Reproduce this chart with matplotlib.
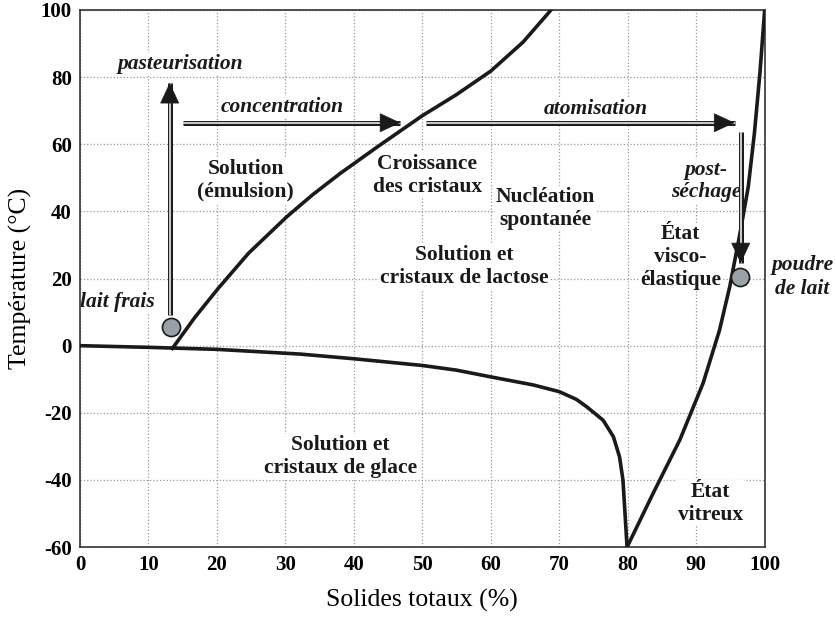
import matplotlib.pyplot as plt

plt.rcParams['font.family'] = ['Liberation Serif', 'DejaVu Serif']
plt.rcParams['axes.unicode_minus'] = False

# courbe de solubilité du lactose
lact_x = [13.5, 16.8, 20.2, 24.6, 30.2, 34.0, 38.0, 43.7, 50.0, 55.0, 60.0, 64.7, 68.8]
lact_y = [-0.8, 8.5, 17.1, 27.5, 38.4, 45.0, 51.3, 59.6, 68.5, 74.8, 81.8, 90.4, 100.0]

# courbe de congélation
glace_x = [0, 10, 20, 32.1, 40, 50, 55, 60, 66.2, 70, 72.5, 74.0, 76.4, 77.9, 78.8, 79.3, 79.6, 79.9]
glace_y = [0, -0.5, -1.1, -2.5, -3.9, -5.9, -7.3, -9.3, -11.7, -13.7, -16.0, -18.2, -22.2,
           -27.1, -33.1, -40.0, -50.0, -60.0]

# transition vitreuse
verre_x = [79.9, 83.7, 87.6, 91.0, 93.4, 94.9, 96.4, 97.6, 98.5, 99.3, 100.0]
verre_y = [-60.0, -44.0, -28.1, -11.2, 4.6, 17.6, 33.5, 47.3, 63.3, 81.1, 100.0]

points_x = [13.3, 96.4]
points_y = [5.6, 20.4]

fig = plt.figure(figsize=(8.37, 6.21), dpi=100)
ax = fig.add_axes([0.0956, 0.119, 0.818, 0.865])

for cx, cy in [(lact_x, lact_y), (glace_x, glace_y), (verre_x, verre_y)]:
    ax.plot(cx, cy, color='#1a1a1a', lw=2.6, solid_joinstyle='round', zorder=3)


def fleche(x0, y0, x1, y1):
    ax.plot([x0, x1], [y0, y1], color='#1a1a1a', lw=3.6, solid_capstyle='butt', zorder=4)
    ax.plot([x0, x1], [y0, y1], color='#c8c8c8', lw=1.5, solid_capstyle='butt', zorder=5)
    ax.annotate('', xy=(x1, y1), xytext=(x0 + (x1 - x0) * 0.97, y0 + (y1 - y0) * 0.97),
                arrowprops=dict(arrowstyle='-|>,head_length=1.4,head_width=0.65',
                                color='#1a1a1a', lw=0.5, shrinkA=0, shrinkB=0,
                                mutation_scale=10),
                zorder=6)


fleche(13.1, 9.1, 13.1, 78.3)
fleche(15.0, 66.4, 46.8, 66.4)
fleche(50.6, 66.4, 95.6, 66.4)
fleche(96.5, 63.7, 96.5, 24.5)

ax.scatter(points_x, points_y, s=170, color='#9aa0a8', edgecolor='#1a1a1a',
           linewidth=1.2, zorder=7)

fond = dict(facecolor='white', edgecolor='none', pad=1)
it = dict(style='italic', weight='bold', fontsize=15.5, color='#1a1a1a')
rg = dict(weight='bold', fontsize=15.5, color='#1a1a1a', linespacing=1.2)

ax.text(14.6, 83.9, 'pasteurisation', ha='center', va='center', bbox=fond, zorder=2, **it)
ax.text(29.6, 71.1, 'concentration', ha='center', va='center', bbox=fond, zorder=2, **it)
ax.text(75.3, 70.5, 'atomisation', ha='center', va='center', bbox=fond, zorder=2, **it)
ax.text(91.4, 49.0, 'post-\nséchage', ha='center', va='center', bbox=fond, zorder=2,
        linespacing=1.15, **it)
ax.text(5.5, 13.0, 'lait frais', ha='center', va='center', bbox=fond, zorder=2, **it)
ax.text(105.5, 20.4, 'poudre\nde lait', ha='center', va='center', linespacing=1.3,
        clip_on=False, **it)

ax.text(24.2, 49.3, 'Solution\n(émulsion)', ha='center', va='center', bbox=fond, zorder=2, **rg)
ax.text(50.7, 50.8, 'Croissance\ndes cristaux', ha='center', va='center', bbox=fond, zorder=2, **rg)
ax.text(68.0, 40.8, 'Nucléation\nspontanée', ha='center', va='center', bbox=fond, zorder=2, **rg)
ax.text(56.1, 23.7, 'Solution et\ncristaux de lactose', ha='center', va='center', bbox=fond, zorder=2, **rg)
ax.text(87.7, 26.4, 'État\nvisco-\nélastique', ha='center', va='center', bbox=fond, zorder=2, **rg)
ax.text(38.0, -33.1, 'Solution et\ncristaux de glace', ha='center', va='center', bbox=fond, zorder=2, **rg)
ax.text(92.1, -46.9, 'État\nvitreux', ha='center', va='center', bbox=fond, zorder=2, **rg)

ax.set_xlim(0, 100)
ax.set_ylim(-60, 100)
ax.set_xticks(range(0, 101, 10))
ax.set_yticks(range(-60, 101, 20))
ax.grid(True, color='#999999', linestyle=':', linewidth=0.9, zorder=0)
ax.set_axisbelow(True)
ax.tick_params(length=0, labelsize=15, pad=6)
for lab in ax.get_xticklabels() + ax.get_yticklabels():
    lab.set_fontweight('bold')
for sp in ax.spines.values():
    sp.set_color('#333333')
    sp.set_linewidth(1.2)

ax.set_xlabel('Solides totaux (%)', fontsize=18.5, labelpad=10)
ax.set_ylabel('Température (°C)', fontsize=18.5, labelpad=6)

fig.savefig('out.png', dpi=100)
